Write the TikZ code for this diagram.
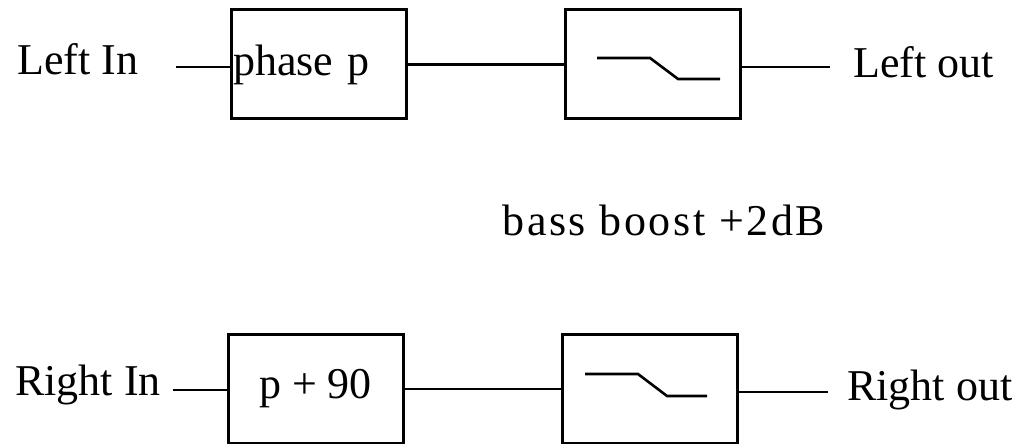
\documentclass[tikz,border=0pt]{standalone}
\usepackage{fontspec}
\setmainfont{Liberation Serif}

\begin{document}
\begin{tikzpicture}[
  x=0.5pt, y=-0.5pt,
  font=\fontsize{22}{26}\selectfont,
  blk/.style={draw, line width=1.5pt, minimum width=87.5pt,
              minimum height=54.5pt, inner sep=0pt},
  lbl/.style={anchor=base west, inner sep=0pt},
  wire/.style={line width=1.4pt},
  curve/.style={line width=1.3pt},
]
\useasboundingbox (0,0) rectangle (1012,444);

% ---------- Left channel ----------
\node[lbl]                                   (lin)    at (17,75)      {Left In};
\node[blk, inner xsep=1pt, text width=85.5pt, align=left]
                                             (phase)  at (318.5,64.5) {phase p};
\node[blk]                                   (lpfL)   at (652.5,64.5) {};
\draw[curve, shift={(lpfL.center)}] (-55.5,-6.5) -- (-2.5,-6.5) -- (25.5,14.5) -- (67.5,14.5);
\node[lbl]                                   (lout)   at (853,78)     {Left out};

% ---------- Boost label ----------
\node[lbl, font=\fontsize{22}{26}\selectfont\addfontfeature{LetterSpace=6}]
                                             (boost)  at (502,235)    {bass boost +2dB};

% ---------- Right channel ----------
\node[lbl]                                   (rin)    at (15,395)     {Right In};
\node[blk]                                   (shift90) at (315.5,389) {p + 90};
\node[blk]                                   (lpfR)   at (649.5,389)  {};
\draw[curve, shift={(lpfR.center)}] (-64.5,-15) -- (-11.5,-15) -- (17.5,7) -- (57.5,7);
\node[lbl]                                   (rout)   at (847,400)    {Right out};

% ---------- Wires ----------
\coordinate (linEnd)  at (176,67);
\coordinate (loutEnd) at (830,67);
\coordinate (rinEnd)  at (173,390);
\coordinate (routEnd) at (828,392);

\draw[wire] (linEnd) -- (linEnd -| phase.west);
\draw[wire] (phase.east) -- (lpfL.west);
\draw[wire] (loutEnd -| lpfL.east) -- (loutEnd);

\draw[wire] (rinEnd) -- (rinEnd -| shift90.west);
\draw[wire] (shift90.east) -- (lpfR.west);
\draw[wire] (routEnd -| lpfR.east) -- (routEnd);

\end{tikzpicture}
\end{document}
